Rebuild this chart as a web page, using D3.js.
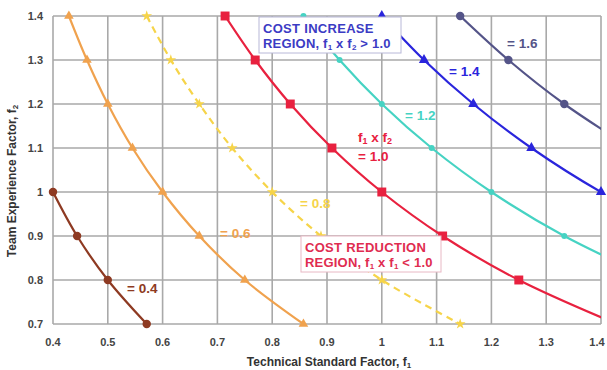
<!DOCTYPE html>
<html><head><meta charset="utf-8">
<script src="https://cdn.jsdelivr.net/npm/d3@7"></script>
<style>body{margin:0;background:#fff}svg{display:block}text{font-family:"Liberation Sans",Arial,sans-serif}</style>
</head><body>
<svg id="c" width="607" height="370"></svg>
<script>
const xTicks = [0.4,0.5,0.6,0.7,0.8,0.9,1.0,1.1,1.2,1.3,1.4];
const xTickLabels = ["0.4","0.5","0.6","0.7","0.8","0.9","1","1.1","1.2","1.3","1.4"];
const yTicks = [0.7,0.8,0.9,1.0,1.1,1.2,1.3,1.4];
const yTickLabels = ["0.7","0.8","0.9","1","1.1","1.2","1.3","1.4"];

const products = ["0.4","0.6","0.8","1.0","1.2","1.4","1.6"];
const s04 = [[0.4,1.0],[0.444,0.9],[0.5,0.8],[0.571,0.7]];
const s06 = [[0.429,1.4],[0.462,1.3],[0.5,1.2],[0.545,1.1],[0.6,1.0],[0.667,0.9],[0.75,0.8],[0.857,0.7]];
const s08 = [[0.571,1.4],[0.615,1.3],[0.667,1.2],[0.727,1.1],[0.8,1.0],[0.889,0.9],[1.0,0.8],[1.143,0.7]];
const s10 = [[0.714,1.4],[0.769,1.3],[0.833,1.2],[0.909,1.1],[1.0,1.0],[1.111,0.9],[1.25,0.8],[1.429,0.7]];
const s12 = [[0.857,1.4],[0.923,1.3],[1.0,1.2],[1.091,1.1],[1.2,1.0],[1.333,0.9],[1.5,0.8]];
const s14 = [[1.0,1.4],[1.077,1.3],[1.167,1.2],[1.273,1.1],[1.4,1.0],[1.556,0.9]];
const s16 = [[1.143,1.4],[1.231,1.3],[1.333,1.2],[1.455,1.1]];

const seriesData = [s04,s06,s08,s10,s12,s14,s16];
const styles = [
  {color:"#8e3a22", marker:"circle", size:56, dash:null},
  {color:"#f0a24e", marker:"triangle", size:40, dash:null},
  {color:"#f6d449", marker:"star", size:36, dash:"7,5"},
  {color:"#e8213f", marker:"square", size:80, dash:null},
  {color:"#46d3c3", marker:"circle", size:28, dash:null},
  {color:"#2a25dc", marker:"triangle", size:46, dash:null},
  {color:"#545488", marker:"circle", size:56, dash:null}
];

const svg = d3.select("#c");
const L=53, R=601, T=16, B=324;
const x = d3.scaleLinear().domain([0.4,1.4]).range([L,R]);
const y = d3.scaleLinear().domain([0.7,1.4]).range([B,T]);

// grid
const g = svg.append("g");
g.selectAll(".vx").data(xTicks).join("line")
  .attr("x1",d=>x(d)).attr("x2",d=>x(d)).attr("y1",T).attr("y2",B)
  .attr("stroke","#a9a9a9").attr("stroke-width",1.6);
g.selectAll(".hy").data(yTicks).join("line")
  .attr("y1",d=>y(d)).attr("y2",d=>y(d)).attr("x1",L).attr("x2",R)
  .attr("stroke","#a9a9a9").attr("stroke-width",1.6);

// ticks labels
svg.append("g").selectAll("text").data(xTicks).join("text")
  .attr("x",d=>Math.min(x(d),597)).attr("y",B+22).attr("text-anchor","middle")
  .attr("font-size",11).attr("font-weight","bold").attr("fill","#444")
  .text((d,i)=>xTickLabels[i]);
svg.append("g").selectAll("text").data(yTicks).join("text")
  .attr("x",L-10).attr("y",d=>y(d)+4).attr("text-anchor","end")
  .attr("font-size",11).attr("font-weight","bold").attr("fill","#444")
  .text((d,i)=>yTickLabels[i]);

// axis titles
const xt = svg.append("text").attr("x",329).attr("y",366).attr("text-anchor","middle")
  .attr("font-size",12).attr("font-weight","bold").attr("fill","#333");
xt.append("tspan").text("Technical Standard Factor, f");
xt.append("tspan").attr("font-size",8).attr("dy",2).text("1");
const yt = svg.append("text").attr("transform","translate(16,181) rotate(-90)").attr("text-anchor","middle")
  .attr("font-size",12).attr("font-weight","bold").attr("fill","#333");
yt.append("tspan").text("Team Experience Factor, f");
yt.append("tspan").attr("font-size",8).attr("dy",2).text("2");

// clip
svg.append("clipPath").attr("id","pc").append("rect")
  .attr("x",L).attr("y",T).attr("width",R-L).attr("height",B-T);

const line = d3.line().x(d=>x(d[0])).y(d=>y(d[1])).curve(d3.curveCatmullRom.alpha(0.5));
const lines = svg.append("g").attr("clip-path","url(#pc)");
seriesData.forEach((s,i)=>{
  lines.append("path").attr("d",line(s)).attr("fill","none")
    .attr("stroke",styles[i].color).attr("stroke-width",2.2)
    .attr("stroke-dasharray",styles[i].dash);
});

const symMap = {circle:d3.symbolCircle, triangle:d3.symbolTriangle, square:d3.symbolSquare, star:d3.symbolStar};
const marks = svg.append("g");
seriesData.forEach((s,i)=>{
  const vis = s.filter(d=>d[0]>=0.4-1e-9 && d[0]<=1.4+1e-9 && d[1]>=0.7-1e-9 && d[1]<=1.4+1e-9);
  marks.selectAll(null).data(vis).join("path")
    .attr("transform",d=>`translate(${x(d[0])},${y(d[1])})`)
    .attr("d",d3.symbol().type(symMap[styles[i].marker]).size(styles[i].size))
    .attr("fill",styles[i].color);
});

// curve labels
const lab = svg.append("g").attr("font-size",13.5).attr("font-weight","bold");
const labels = [
  {t:"= 0.4", x:127, y:293, c:styles[0].color},
  {t:"= 0.6", x:220, y:238, c:styles[1].color},
  {t:"= 0.8", x:300, y:208, c:styles[2].color},
  {t:"= 1.2", x:405, y:120, c:styles[4].color},
  {t:"= 1.4", x:449, y:76, c:styles[5].color},
  {t:"= 1.6", x:507, y:48, c:styles[6].color}
];
labels.forEach(l=>{
  lab.append("text").attr("x",l.x).attr("y",l.y).attr("fill",l.c).text(l.t);
});
const f = lab.append("text").attr("x",358).attr("y",142).attr("fill",styles[3].color);
f.append("tspan").text("f");
f.append("tspan").attr("font-size",9).attr("dy",2).text("1");
f.append("tspan").attr("dy",-2).text(" x f");
f.append("tspan").attr("font-size",9).attr("dy",2).text("2");
lab.append("text").attr("x",358).attr("y",161).attr("fill",styles[3].color).text("= 1.0");

// region boxes
function box(x0,y0,w,h,stroke,color,l1,l2a,sub2,tail){
  const gg = svg.append("g");
  gg.append("rect").attr("x",x0).attr("y",y0).attr("width",w).attr("height",h)
    .attr("fill","#fff").attr("stroke",stroke).attr("stroke-width",1);
  gg.append("text").attr("x",x0+4).attr("y",y0+15.5).attr("fill",color)
    .attr("font-size",13).attr("letter-spacing",0.3).attr("font-weight","bold").text(l1);
  const t2 = gg.append("text").attr("x",x0+4).attr("y",y0+31).attr("fill",color)
    .attr("font-size",13).attr("letter-spacing",0.2).attr("font-weight","bold");
  t2.append("tspan").text(l2a);
  t2.append("tspan").attr("font-size",8).attr("dy",2).text("1");
  t2.append("tspan").attr("dy",-2).text(" x f");
  t2.append("tspan").attr("font-size",8).attr("dy",2).text(sub2);
  t2.append("tspan").attr("dy",-2).text(tail);
}
box(259,17,142,36,"#b8b8d8","#3b3bc4","COST INCREASE","REGION, f","2"," > 1.0");
box(301,236,140,36,"#e8b8c4","#e02c50","COST REDUCTION","REGION, f","1"," < 1.0");
</script>
</body></html>
